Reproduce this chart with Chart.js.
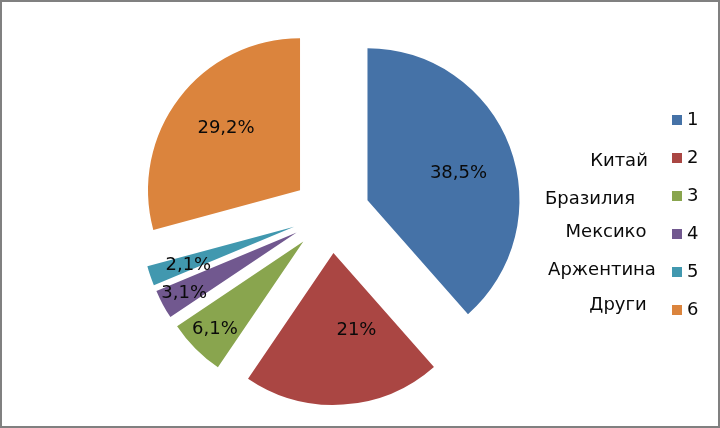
<!DOCTYPE html>
<html><head><meta charset="utf-8">
<script src="https://cdn.jsdelivr.net/npm/chart.js@4.4.1/dist/chart.umd.min.js"></script>
<style>
html,body{margin:0;padding:0;background:#fff;}
#wrap{position:relative;width:720px;height:428px;overflow:hidden;}
#frame{position:absolute;left:0;top:0;width:720px;height:428px;box-sizing:border-box;border:2px solid #808080;pointer-events:none;}
canvas{position:absolute;left:0;top:0;}
</style></head><body>
<div id="wrap"><canvas id="c" width="720" height="428"></canvas><div id="frame"></div></div>
<script>
// ---- data ----
const categories = ['1', '2', '3', '4', '5', '6'];
const shares = [38.5, 21, 6.1, 3.1, 2.1, 29.2];
const countryNames = ['', 'Китай', 'Бразилия', 'Мексико', 'Аржентина', 'Други'];

// ---- style ----
const colors = ['#4572A7', '#AA4643', '#89A54E', '#71588F', '#4198AF', '#DB843D'];
const FONT = '18px "DejaVu Sans", sans-serif';

function fmt(v) { return String(v).replace('.', ',') + '%'; }

const explodePlugin = {
  id: 'explode',
  afterDatasetsUpdate(chart, args, opts) {
    const meta = chart.getDatasetMeta(0);
    meta.data.forEach(arc => {
      const mid = (arc.startAngle + arc.endAngle) / 2;
      arc.x += Math.cos(mid) * opts.distance;
      arc.y += Math.sin(mid) * opts.distance;
    });
  }
};

const sliceLabelPlugin = {
  id: 'sliceLabels',
  afterDatasetsDraw(chart, args, opts) {
    const ctx = chart.ctx;
    const meta = chart.getDatasetMeta(0);
    const vals = chart.data.datasets[0].data;
    ctx.save();
    ctx.font = FONT;
    ctx.fillStyle = '#0a0a0a';
    ctx.textAlign = 'center';
    ctx.textBaseline = 'middle';
    meta.data.forEach((arc, i) => {
      const mid = (arc.startAngle + arc.endAngle) / 2 + opts.angleShift[i] * Math.PI / 180;
      const r = arc.outerRadius * opts.radial[i];
      ctx.fillText(fmt(vals[i]), arc.x + Math.cos(mid) * r, arc.y + Math.sin(mid) * r);
    });
    ctx.restore();
  }
};

const sideLegendPlugin = {
  id: 'sideLegend',
  afterDraw(chart, args, opts) {
    const ctx = chart.ctx;
    const labels = chart.data.labels;
    const bg = chart.data.datasets[0].backgroundColor;
    ctx.save();
    ctx.font = FONT;
    ctx.textBaseline = 'middle';
    labels.forEach((lab, i) => {
      const cy = opts.top + i * opts.step;
      ctx.fillStyle = bg[i];
      ctx.fillRect(opts.boxX, cy - 5, 10, 10);
      ctx.fillStyle = '#0a0a0a';
      ctx.textAlign = 'left';
      ctx.fillText(lab, opts.boxX + 15, cy);
    });
    ctx.textAlign = 'center';
    countryNames.forEach((name, i) => {
      if (!name) return;
      const p = opts.namePos[i];
      ctx.fillText(name, p[0], p[1]);
    });
    ctx.restore();
  }
};

new Chart(document.getElementById('c'), {
  type: 'pie',
  data: {
    labels: categories,
    datasets: [{
      data: shares,
      backgroundColor: colors,
      borderWidth: 0,
      radius: 152
    }]
  },
  options: {
    responsive: false,
    animation: false,
    events: [],
    layout: { padding: { left: 0, right: 58, top: 0, bottom: 0 } },
    plugins: {
      legend: { display: false },
      tooltip: { enabled: false },
      explode: { distance: 39 },
      sliceLabels: {
        radial: [0.625, 0.53, 0.82, 0.84, 0.74, 0.635],
        angleShift: [4, -13, 0, 0, -1, 2.5]
      },
      sideLegend: {
        boxX: 672, top: 120, step: 38,
        namePos: [null, [619, 161], [590, 199], [606, 232], [602, 270], [618, 305]]
      }
    }
  },
  plugins: [explodePlugin, sliceLabelPlugin, sideLegendPlugin]
});
</script>
</body></html>
